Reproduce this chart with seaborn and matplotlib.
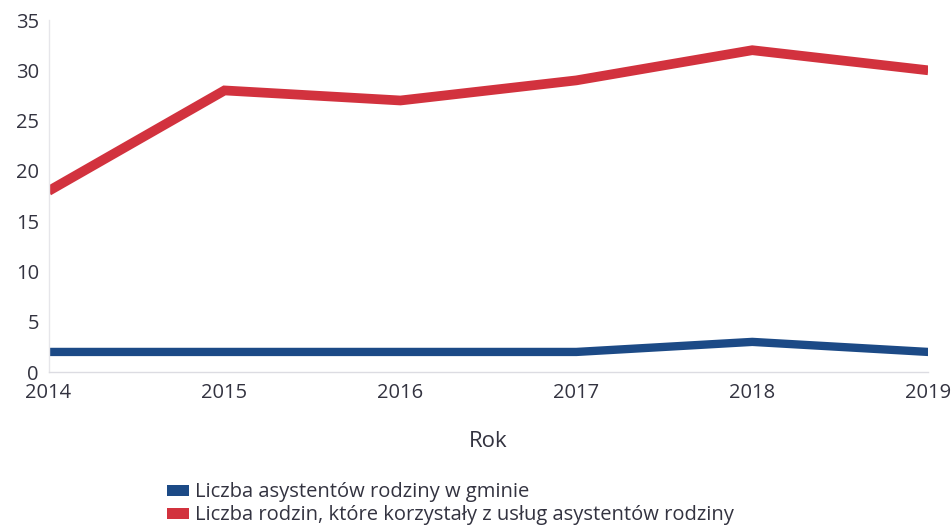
import matplotlib
matplotlib.use("Agg")
import matplotlib.pyplot as plt
from matplotlib.patches import Patch
import pandas as pd
import seaborn as sns

years = [2014, 2015, 2016, 2017, 2018, 2019]
asystenci = [2, 2, 2, 2, 3, 2]
rodziny = [18, 28, 27, 29, 32, 30]
series_names = [
    "Liczba asystentów rodziny w gminie",
    "Liczba rodzin, które korzystały z usług asystentów rodziny",
]
y_ticks = [0, 5, 10, 15, 20, 25, 30, 35]

colors = {series_names[0]: "#1c4a86", series_names[1]: "#d2323e"}
widths = {series_names[0]: 6.0, series_names[1]: 7.0}

df = pd.DataFrame({
    "Rok": years * 2,
    "Wartość": asystenci + rodziny,
    "Seria": [series_names[0]] * len(years) + [series_names[1]] * len(years),
})

sns.set_theme(style="white")
plt.rcParams["font.family"] = ["Open Sans", "DejaVu Sans"]

fig = plt.figure(figsize=(9.52, 5.27), dpi=100)
ax = fig.add_axes([0.051, 0.294, 0.924, 0.668])

for name in series_names:
    sns.lineplot(data=df[df["Seria"] == name], x="Rok", y="Wartość",
                 color=colors[name], linewidth=widths[name], ax=ax,
                 legend=False, solid_capstyle="butt", solid_joinstyle="miter")

ax.set_xlim(2014, 2019)
ax.set_ylim(0, 35)
ax.set_yticks(y_ticks)
ax.set_xticks(years)
ax.set_xticklabels([str(y) for y in years])
ax.tick_params(axis="both", length=0, labelsize=14.5, colors="#333340")
ax.tick_params(axis="y", pad=7)
ax.tick_params(axis="x", pad=8)
ax.set_ylabel("")
ax.set_xlabel("Rok", fontsize=16, color="#333340", labelpad=20)

for side in ["top", "right"]:
    ax.spines[side].set_visible(False)
ax.spines["left"].set_color("#e6e6ea")
ax.spines["bottom"].set_color("#dcdce2")
ax.spines["left"].set_linewidth(1.0)
ax.spines["bottom"].set_linewidth(1.0)

handles = [Patch(facecolor=colors[n], edgecolor="none") for n in series_names]
fig.legend(handles, series_names, loc="lower left", bbox_to_anchor=(0.163, -0.02),
           frameon=False, fontsize=14.5, handlelength=1.1, handleheight=0.5,
           handletextpad=0.3, labelspacing=0.15, borderaxespad=0.2,
           labelcolor="#333340")

fig.savefig("out.png", dpi=100, facecolor="white")
